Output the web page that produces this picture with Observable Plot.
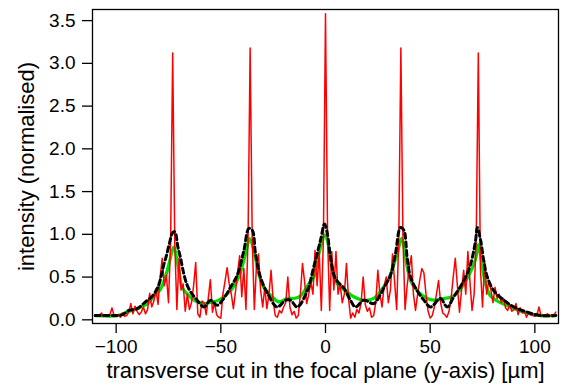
<!DOCTYPE html>
<html><head><meta charset="utf-8">
<script src="https://cdn.jsdelivr.net/npm/d3@7"></script>
<script src="https://cdn.jsdelivr.net/npm/@observablehq/plot@0.6"></script>
<style>html,body{margin:0;padding:0;background:#fff} svg{display:block}</style>
</head><body><div id="chart"></div>
<script>
const xTicks = [-100, -50, 0, 50, 100];
const yTicks = [0, 0.5, 1, 1.5, 2, 2.5, 3, 3.5];
const xLabel = "transverse cut in the focal plane (y-axis) [µm]";
const yLabel = "intensity (normalised)";

// red: measured cut, sampled every 1 µm from -110 to 110
const redX = d3.range(-110, 111, 1);
const redY = [
  0.06,0.04,0.05,0.08,0.04,0.05,0.04,0.06,0.14,0.05,0.04,0.06,0.03,0.08,0.04,0.05,0.09,0.19,0.07,0.16,0.10,0.06,0.09,0.15,0.07,
  0.12,0.31,0.15,0.22,0.36,0.18,0.50,0.72,0.40,0.52,0.20,0.90,3.12,0.90,0.12,0.72,0.35,0.42,0.10,0.30,0.12,0.20,0.40,0.67,0.07,
  0.03,0.22,0.20,0.06,0.25,0.47,0.09,0.20,0.06,0.03,0.02,0.30,0.45,0.61,0.42,0.30,0.13,0.33,0.55,0.75,0.27,0.60,0.12,0.95,
  3.18,0.95,0.12,0.62,0.77,0.35,0.15,0.38,0.13,0.30,0.58,0.22,0.05,0.03,0.11,0.08,0.15,0.20,0.50,0.15,0.06,0.10,0.02,0.05,0.30,0.66,0.45,0.19,0.30,0.44,0.30,0.81,0.40,0.80,0.11,0.95,
  3.58,
  0.95,0.11,0.80,0.35,0.80,0.30,0.42,0.20,0.30,0.66,0.25,0.02,0.08,0.03,0.12,0.08,0.20,0.50,0.18,0.10,0.14,0.03,0.05,0.20,0.58,0.30,0.15,0.40,0.50,0.20,0.35,0.77,0.45,0.12,0.95,3.18,
  0.95,0.12,0.40,0.60,0.75,0.30,0.11,0.30,0.46,0.60,0.55,0.30,0.10,0.02,0.05,0.15,0.30,0.46,0.20,0.08,0.06,0.03,0.10,0.25,0.50,0.72,0.40,0.09,0.35,0.58,0.30,0.80,0.45,0.11,0.30,0.95,3.12,
  0.60,0.15,0.69,0.30,0.46,0.35,0.20,0.38,0.25,0.30,0.20,0.25,0.14,0.11,0.18,0.10,0.12,0.19,0.06,0.14,0.08,0.10,0.03,0.08,0.06,0.05,0.04,0.06,0.15,0.04,0.06,0.05,0.07,0.04,0.06,0.05,0.09
];

// black dashed: reference curve
const blackX = [-110,-105,-101,-97,-94,-90,-86,-83,-80.5,-79,-77.5,-76,-74.5,-73,-72,-70.5,-69.3,-67.7,-66,-63.7,-61.3,-58.1,-54.9,-51.8,-48.6,-45.4,-42.2,-39,-36.6,-35,-33.4,-31.1,-27.9,-23.1,-19.1,-16.7,-13.5,-8.7,-5.6,-2.4,-0.5,0.8,2.4,4.8,8.8,11.9,14.3,18.3,23,26.3,28,31,33.4,35.8,37.4,39,40.6,43.8,47,50.2,54.9,58.1,61.3,66.1,69.3,71.7,72.5,74.1,75.6,77.3,80.4,85.2,90,96.4,102.7,110];
const blackY = [0.05,0.05,0.05,0.06,0.11,0.13,0.21,0.27,0.36,0.46,0.62,0.75,0.9,1.02,1.03,0.85,0.73,0.54,0.4,0.3,0.23,0.15,0.23,0.17,0.25,0.38,0.52,0.81,1.07,1.05,0.77,0.5,0.32,0.15,0.23,0.23,0.15,0.34,0.62,0.93,1.12,1.02,0.73,0.48,0.37,0.23,0.15,0.23,0.19,0.3,0.38,0.52,0.77,1.08,1.05,0.73,0.5,0.34,0.23,0.15,0.25,0.15,0.27,0.46,0.65,0.93,1.08,0.93,0.69,0.5,0.34,0.23,0.15,0.09,0.05,0.05];

// green: smoothed curve
const greenX = [-110,-99.5,-94.7,-90,-85,-81.2,-78.8,-76.5,-74.4,-72.5,-70.1,-68.5,-66,-62.1,-58.1,-54.1,-51,-47,-43,-40.6,-38.2,-36.2,-34.2,-31.9,-29.5,-25.5,-22.3,-18.3,-15.1,-11.9,-8,-5.6,-3.2,-0.2,1.6,3.2,5.6,9.6,13.5,18.3,23,27.1,30.2,34.2,36.4,39,40.6,43.8,48.6,51.7,56.5,60.5,64.5,68.5,71.7,73,74.9,76.5,78.8,82.8,88.4,94.7,102.7,110];
const greenY = [0.05,0.05,0.09,0.13,0.19,0.3,0.36,0.5,0.69,0.85,0.58,0.38,0.3,0.22,0.19,0.21,0.23,0.3,0.42,0.56,0.77,0.95,0.81,0.54,0.38,0.27,0.21,0.25,0.25,0.28,0.42,0.5,0.77,0.99,0.85,0.58,0.42,0.34,0.27,0.23,0.25,0.36,0.48,0.77,0.95,0.62,0.46,0.34,0.25,0.23,0.25,0.27,0.36,0.52,0.71,0.88,0.62,0.42,0.28,0.21,0.15,0.09,0.05,0.05];

const red = redY.map((y, i) => ({x: redX[i], y}));
const black = blackY.map((y, i) => ({x: blackX[i], y}));
const green = greenY.map((y, i) => ({x: greenX[i], y}));

const chart = Plot.plot({
  width: 568, height: 385,
  marginLeft: 92, marginRight: 10, marginTop: 9, marginBottom: 62,
  style: {fontFamily: "'Liberation Sans', Arial, sans-serif", fontSize: "19px", color: "#000", background: "#fff"},
  x: {domain: [-111.3, 111.3]},
  y: {domain: [-0.043, 3.63]},
  marks: [
    Plot.lineY(green, {x: "x", y: "y", stroke: "#00e000", strokeWidth: 3.2, curve: "catmull-rom"}),
    Plot.lineY(red, {x: "x", y: "y", stroke: "#ff0000", strokeWidth: 1.5}),
    Plot.lineY(black, {x: "x", y: "y", stroke: "#000", strokeWidth: 3, strokeDasharray: "5,3.5", curve: "catmull-rom"}),
    Plot.frame({stroke: "#000", strokeWidth: 1.3}),
    Plot.axisX({ticks: xTicks, tickSize: 10, tickPadding: 6, fontSize: 19, label: null, strokeWidth: 1.3}),
    Plot.axisY({ticks: yTicks, tickSize: 10, tickPadding: 7, tickFormat: d3.format(".1f"), fontSize: 19, label: null, strokeWidth: 1.3}),
    Plot.text([xLabel], {text: d => d, frameAnchor: "bottom", dy: 54, fontSize: 22, textAnchor: "middle"}),
    Plot.text([yLabel], {text: d => d, frameAnchor: "left", dx: -66, rotate: -90, fontSize: 22, textAnchor: "middle"})
  ]
});
document.getElementById("chart").appendChild(chart);
</script>
</body></html>
